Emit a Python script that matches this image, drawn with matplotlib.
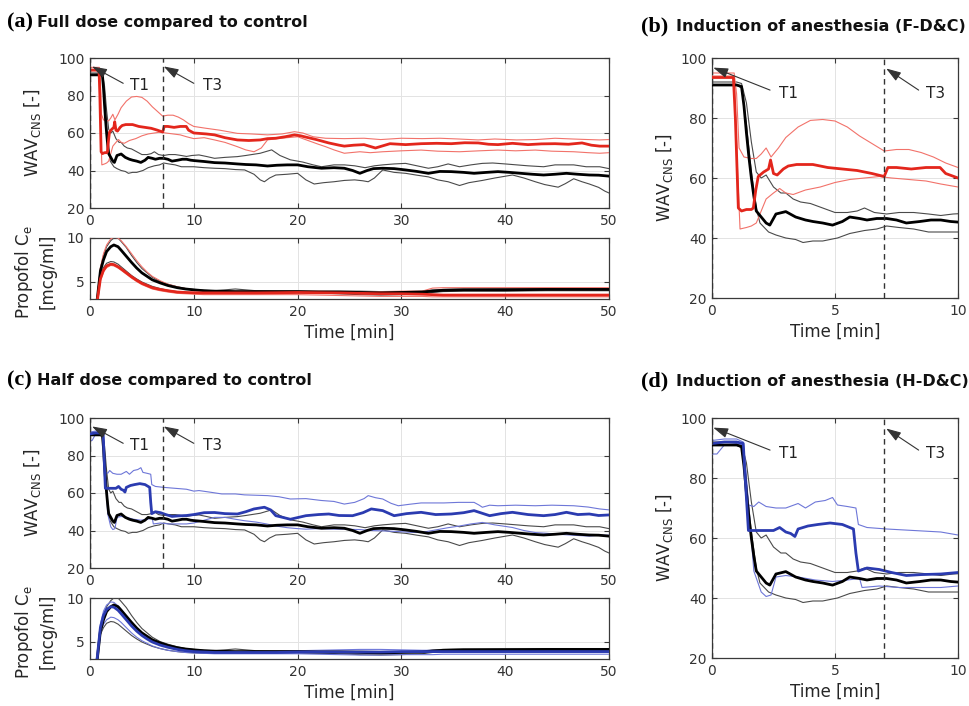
import matplotlib
matplotlib.use("Agg")
import matplotlib.pyplot as plt

# ---------------- data ----------------
# Control group WAV_CNS
ctrl_mean_t = [0, 0.5, 1.0, 1.2, 1.3, 1.4, 1.5, 1.6, 1.7, 1.8, 2.0, 2.2, 2.35, 2.6, 3.0, 3.4, 3.8, 4.1, 4.5, 4.9,
               5.3, 5.6, 6.0, 6.3, 6.7, 7.1, 7.5, 7.9, 8.45, 8.9, 9.3, 9.7, 10, 11, 12, 13, 14.2, 15, 16, 17.1,
               18, 19, 20, 21, 22.3, 23.5, 24.5, 25.3, 26, 26.7, 27.3, 28.2, 29.3, 30.4, 31.5, 32.6, 33.7, 34.8,
               36, 37, 38.2, 39.3, 40.4, 41.5, 42.6, 43.7, 44.8, 45.9, 47, 48.1, 49, 50]
ctrl_mean_v = [91, 91, 91, 90.5, 84, 75, 67, 60, 54, 49, 47, 45, 44.3, 48, 48.8, 47, 46, 45.5, 45, 44.3,
               45.5, 47, 46.5, 46, 46.5, 46.5, 46, 45, 45.5, 46, 46, 45.5, 45.3, 44.8, 44.2, 44, 43.5, 43.2, 43, 42.4,
               42.8, 43, 43, 42, 41.2, 41.5, 41.2, 40, 38.5, 40, 41, 41.2, 41, 40.3, 39.5, 38.5, 39.5, 39.4,
               39, 38.5, 39, 39.4, 39, 38.5, 38, 37.6, 38, 38.5, 38, 37.6, 37.5, 37]
ctrl_up_t = [0, 1.0, 1.2, 1.4, 1.6, 1.8, 2.0, 2.2, 2.5, 2.8, 3.0, 3.3, 3.6, 4.0, 4.5, 5.0, 5.5, 5.9, 6.2, 6.6,
             7.1, 7.6, 8.2, 8.8, 9.3, 9.8, 10.5, 11.2, 12, 13, 14.2, 15, 16.4, 17.5, 18.3, 19.3, 20.5, 21.5,
             22.3, 23.5, 24.5, 25.5, 26.5, 27.4, 28.2, 29.3, 30.4, 31.5, 32.6, 33.5, 34.5, 35.6, 36.7, 37.8,
             38.8, 40, 41.1, 42.2, 43.7, 44.8, 46.6, 47.8, 49.1, 50]
ctrl_up_v = [92, 92, 91.5, 85, 72, 62, 60, 61, 57, 55, 55, 53, 52, 51.5, 50, 48.5, 48.5, 49, 50, 48.5,
             48, 48.5, 48.5, 48, 47.5, 48, 48.3, 47.5, 46.5, 47, 47.4, 48, 49.2, 51, 48, 45.7, 44.5, 43,
             42, 43, 43, 42.5, 41.5, 42.5, 43, 43.5, 43.8, 42.5, 41.2, 42, 43.5, 42, 43, 43.8,
             44, 43.5, 43, 42.5, 42, 43, 43, 42, 42, 41]
ctrl_lo_t = [0, 1.0, 1.2, 1.4, 1.6, 1.8, 1.95, 2.3, 2.6, 3.0, 3.4, 3.7, 4.1, 4.5, 5.1, 5.6, 6.2, 6.7, 7.1, 7.6,
             8.2, 8.8, 9.5, 10, 11, 12, 13, 14, 14.9, 15.8, 16.4, 16.8, 17.3, 17.9, 19, 20, 20.8, 21.6, 22.5,
             23.5, 24.5, 25.5, 26.3, 26.8, 27.4, 28.2, 29.3, 30.4, 31.5, 32.6, 33.5, 34.5, 35.6, 36.5, 37.8,
             39, 40.7, 41.8, 42.9, 43.8, 45.1, 45.8, 46.6, 47.4, 48.1, 49, 49.6, 50]
ctrl_lo_v = [91, 91, 90, 78, 62, 50, 45, 42, 41, 40, 39.5, 38.5, 39, 39, 40, 41.5, 42.5, 43, 44, 43.5,
             43, 42, 42, 42, 41.5, 41.2, 41, 40.5, 40.3, 38, 35, 34, 36, 37.6, 38, 38.5, 35, 32.8, 33.5,
             34, 34.7, 35, 34.5, 34, 36, 40.3, 39, 38.5, 37.5, 36.6, 35, 34, 32, 33.5, 34.7,
             36, 37.6, 36, 34, 32.5, 31.1, 33, 35.6, 34, 32.8, 31, 29, 28]

# Full dose group WAV_CNS
full_mean_t = [0, 0.5, 0.87, 0.95, 1.07, 1.2, 1.4, 1.6, 1.68, 1.78, 1.88, 2.1, 2.3, 2.38, 2.5, 2.65, 2.9, 3.1,
               3.44, 4.1, 4.7, 5.3, 5.9, 6.5, 7.0, 7.15, 7.5, 8.1, 8.7, 9.27, 9.5, 10, 10.5, 11.2, 12, 13, 14.2,
               15.3, 16.4, 17.1, 17.9, 18.8, 19.7, 20.3, 20.8, 21.8, 23, 24, 24.5, 25.4, 26.4, 27.5, 28.9,
               30.4, 31.9, 33.4, 34.8, 36.1, 37.4, 38.4, 39.3, 40.7, 42.2, 43.5, 44.8, 46.1, 47.4, 48.3, 49.1, 50]
full_mean_v = [93.5, 93.5, 93.5, 80, 50, 49, 49.5, 49.5, 50, 56, 60.5, 62, 63, 66, 61.5, 61, 63, 64,
               64.5, 64.5, 63.5, 63, 62.5, 61.5, 60.5, 63.5, 63.5, 63, 63.5, 63.5, 61.5, 60, 59.8, 59.5, 59, 57.5, 56.3,
               56, 56.3, 57, 57.2, 58, 59, 58.5, 57.8, 56.5, 54.7, 53.5, 53, 53.5, 53.8, 52, 54.3,
               53.8, 54.3, 54.5, 54.3, 54.8, 54.7, 54, 53.8, 54.5, 53.8, 54.2, 54.3, 54, 54.7, 53.5, 53, 53]
full_up_t = [0, 0.9, 1.0, 1.1, 1.3, 1.6, 1.8, 2.0, 2.2, 2.4, 2.7, 3.0, 3.5, 4.0, 4.5, 5.0, 5.5, 6.0, 6.5, 7.0,
             7.5, 8.0, 8.5, 9.0, 9.5, 10, 11.2, 12.5, 14.2, 15.5, 17.1, 18.5, 19.7, 20.5, 21.5, 22.7, 24.5,
             26.4, 28, 30, 32, 33.7, 35.5, 37.4, 39, 41.1, 43, 44.8, 46.5, 48, 49.1, 50]
full_up_v = [95, 95, 88, 70, 67, 66.5, 66.5, 68, 70, 67, 70, 73.5, 77, 79.2, 79.5, 79, 77, 74, 71.5, 69,
             69.5, 69.5, 68.5, 67, 65, 63.5, 62.5, 61.5, 59.8, 59.5, 59, 59.5, 60.7, 60, 58, 57.2, 57,
             57.2, 56.5, 57.2, 57, 57.2, 56.8, 56.3, 56.8, 56.3, 56.5, 57.2, 56.8, 56.5, 56.3, 56.5]
full_lo_t = [0, 0.9, 1.05, 1.14, 1.4, 1.6, 1.8, 2.0, 2.2, 2.5, 2.75, 3.0, 3.3, 3.8, 4.4, 5.0, 5.6, 6.2, 6.8,
             7.3, 8.0, 8.7, 9.3, 10, 11, 12, 13, 14.2, 15, 15.8, 16.5, 17.1, 18, 19, 20, 21, 22, 22.7, 23.5,
             24.5, 26, 27, 28.2, 30, 31.9, 33.5, 35.6, 37.5, 39.3, 41, 42.9, 44.5, 46.6, 48, 49.1, 50]
full_lo_v = [94, 94, 60, 43, 43.5, 44, 45, 49, 53, 55, 56.5, 55, 54.5, 56, 57, 58.5, 59.5, 60, 60.5,
             60, 59.5, 59, 58, 57, 57.5, 56.3, 55, 52.7, 51, 50, 52, 56.3, 57, 57.5, 58, 56, 54, 52.7, 51,
             49.2, 50, 49.5, 50, 50.5, 50.9, 50.3, 50, 50.5, 50.9, 50.5, 50.9, 50.3, 50, 49.5, 49.2, 49.5]

# Half dose group WAV_CNS
half_mean_t = [0, 0.5, 1.0, 1.27, 1.35, 1.48, 1.8, 2.2, 2.5, 2.75, 3.0, 3.2, 3.37, 3.5, 3.9, 4.3, 4.8, 5.3,
               5.75, 5.85, 5.95, 6.3, 6.8, 7.3, 7.9, 8.5, 9.3, 10, 11, 12, 13, 14.2, 15, 15.8, 16.8, 17.4,
               17.9, 19.3, 20.8, 22, 23, 24, 25.3, 26.3, 27.1, 28.2, 29.3, 30.5, 31.9, 33.3, 34.8, 36, 37,
               38.5, 39.6, 40.7, 42.2, 43.7, 44.8, 45.9, 47, 48.1, 49, 50]
half_mean_v = [91.5, 92, 92, 91.5, 80, 62.5, 62.5, 62.5, 62.5, 63.5, 62, 61.5, 60.5, 63, 64, 64.5, 65, 64.5,
               63, 55, 49, 50, 49.5, 48.5, 47.5, 47.8, 48, 48.5, 49.5, 49.6, 49, 48.8, 50, 51.5, 52.4, 51,
               47.9, 46, 47.9, 48.5, 48.8, 48, 47.9, 49.5, 51.5, 50.6, 47.9, 49, 49.7, 48.5, 48.8, 49.5, 50.6,
               47.9, 49, 49.7, 48.5, 47.9, 48.5, 49.7, 48.5, 48.8, 48, 48.3]
half_up_t = [0, 0.5, 1.0, 1.27, 1.4, 1.48, 1.7, 1.9, 2.2, 2.6, 3.0, 3.5, 3.8, 4.2, 4.6, 4.9, 5.1, 5.5, 5.85,
             5.95, 6.3, 7.1, 8.2, 9.3, 10, 10.5, 11.5, 12.7, 14, 14.9, 16, 17.1, 18.2, 19.3, 20.8, 22.3, 23.5,
             24.5, 25.5, 26.4, 26.8, 27.5, 28.2, 29, 29.7, 30.8, 31.9, 33, 34.1, 35.5, 37, 37.5, 37.8, 38.5,
             39.3, 41, 42.9, 44.5, 46.6, 48, 49.1, 50]
half_up_v = [92.5, 93, 93, 92, 80, 71, 70.5, 72, 70.5, 70, 70, 71.5, 70, 72, 72.5, 73.5, 71, 70.5, 70,
             64.5, 63.5, 63, 62.5, 62, 61, 61.3, 60.5, 59.5, 59.5, 59, 58.8, 58.6, 58, 56.8, 57, 56, 55.5,
             54.1, 55, 57, 58.6, 57.5, 56.8, 54.5, 53.2, 54, 54.7, 54.7, 54.7, 55, 55, 53.5, 52.4, 53.5,
             53.2, 53.5, 53.2, 53.5, 53.2, 52.5, 51.5, 51]
half_lo_t = [0, 0.2, 0.5, 1.0, 1.27, 1.5, 1.7, 2.0, 2.2, 2.4, 2.6, 3.0, 3.5, 4.2, 4.9, 5.5, 6.0, 6.1, 6.8,
             7.6, 8.5, 9.3, 10, 11, 12, 13, 14, 14.9, 16, 17, 17.9, 19, 20, 20.8, 22, 23.5, 24.5, 26, 27,
             28.2, 29.5, 31, 31.9, 33, 34.5, 35.6, 36.7, 37.8, 39, 40.7, 41.8, 42.9, 44, 45.1, 46.5, 48.1,
             49, 50]
half_lo_v = [88, 88, 91, 91.5, 91, 70, 49, 42, 40.5, 41, 47, 47.5, 47, 46, 45.5, 46, 46.5, 43.5, 44,
             43.5, 43.5, 43.5, 44, 45.5, 47, 47, 46, 45.2, 44.5, 43.5, 42.4, 41.5, 41, 40.7, 41, 40.7, 40.7,
             40.5, 40, 39.8, 39.5, 39, 38.9, 40, 41.5, 42.4, 43.5, 44.3, 43, 41.6, 40, 38.9, 38.5, 38, 37.5,
             37, 37.5, 37.5]

# Propofol effect-site concentration Ce [mcg/ml]
ce_t = [0, 0.5, 0.7, 1.0, 1.3, 1.6, 2.0, 2.3, 2.7, 3.0, 3.5, 4.0, 4.5, 5.0, 5.5, 6.0, 6.75, 7.5, 8.4, 9.2,
        10, 11, 12, 14, 16, 18, 20, 22, 24, 26, 28, 30, 32, 33, 34, 36, 40, 44, 48, 50]
ce_ctrl_mean = [0, 1.5, 3, 6.2, 7.5, 8.45, 9.0, 9.2, 9.0, 8.6, 7.9, 7.2, 6.55, 6.0, 5.6, 5.2, 4.85, 4.55, 4.3, 4.15,
                4.05, 3.95, 3.9, 3.85, 3.85, 3.85, 3.85, 3.8, 3.8, 3.75, 3.7, 3.75, 3.8, 3.9, 4.0, 4.05, 4.05, 4.1, 4.1, 4.1]
ce_ctrl_up = [0, 1.6, 3.2, 6.5, 8.0, 9.0, 9.7, 10.0, 10.0, 9.6, 8.9, 8.0, 7.2, 6.5, 6.0, 5.5, 5.0, 4.7, 4.4, 4.2,
              4.1, 4.0, 3.95, 4.15, 3.95, 3.9, 3.9, 3.9, 3.9, 3.9, 3.85, 3.85, 3.9, 4.05, 4.1, 4.15, 4.2, 4.2, 4.2, 4.2]
ce_ctrl_lo = [0, 1.4, 3, 5.8, 6.6, 7.1, 7.3, 7.25, 7.0, 6.7, 6.2, 5.7, 5.3, 4.95, 4.7, 4.45, 4.2, 4.0, 3.85, 3.75,
              3.7, 3.65, 3.65, 3.65, 3.65, 3.65, 3.7, 3.7, 3.6, 3.5, 3.45, 3.5, 3.6, 3.75, 3.85, 3.9, 3.9, 3.95, 3.95, 3.95]
ce_full_mean = [0, 1.3, 2.8, 5.3, 6.3, 6.8, 7.0, 6.95, 6.7, 6.45, 6.0, 5.55, 5.15, 4.8, 4.55, 4.3, 4.1, 3.95, 3.8, 3.75,
                3.72, 3.7, 3.7, 3.7, 3.7, 3.72, 3.75, 3.72, 3.7, 3.65, 3.6, 3.6, 3.55, 3.5, 3.45, 3.45, 3.45, 3.45, 3.45, 3.45]
ce_full_up = [0, 1.6, 3.3, 6.6, 8.2, 9.2, 9.9, 10.1, 10.0, 9.7, 9.0, 8.2, 7.4, 6.7, 6.1, 5.6, 5.1, 4.7, 4.4, 4.2,
              4.05, 3.95, 3.9, 3.9, 3.9, 3.9, 3.9, 3.9, 3.85, 3.85, 3.85, 3.9, 3.9, 4.25, 4.3, 4.3, 4.3, 4.3, 4.3, 4.3]
ce_full_lo = [0, 1.2, 2.7, 5.1, 6.1, 6.6, 6.85, 6.8, 6.55, 6.3, 5.85, 5.4, 5.0, 4.65, 4.4, 4.15, 3.95, 3.8, 3.65, 3.6,
              3.55, 3.5, 3.5, 3.5, 3.5, 3.5, 3.5, 3.45, 3.4, 3.35, 3.3, 3.3, 3.3, 3.25, 3.25, 3.25, 3.25, 3.25, 3.25, 3.25]
ce_half_mean = [0, 1.6, 3.2, 6.6, 8.0, 8.7, 9.0, 8.95, 8.6, 8.2, 7.5, 6.8, 6.2, 5.7, 5.3, 4.95, 4.6, 4.35, 4.1, 3.95,
                3.85, 3.8, 3.75, 3.75, 3.75, 3.75, 3.8, 3.8, 3.8, 3.8, 3.8, 3.85, 3.85, 3.85, 3.85, 3.85, 3.85, 3.85, 3.85, 3.85]
ce_half_up = [0, 1.7, 3.4, 7.0, 8.5, 9.2, 9.55, 9.5, 9.1, 8.7, 7.9, 7.1, 6.5, 6.0, 5.5, 5.1, 4.7, 4.45, 4.2, 4.05,
              3.95, 3.9, 3.85, 3.85, 3.85, 3.9, 3.95, 4.0, 4.05, 4.1, 4.1, 4.05, 4.0, 4.0, 4.0, 4.0, 4.0, 4.0, 4.0, 4.0]
ce_half_lo = [0, 1.5, 3.0, 6.0, 7.0, 7.5, 7.8, 7.75, 7.5, 7.2, 6.6, 6.0, 5.5, 5.1, 4.8, 4.5, 4.2, 4.0, 3.85, 3.75,
              3.7, 3.65, 3.6, 3.6, 3.6, 3.6, 3.6, 3.55, 3.5, 3.45, 3.45, 3.5, 3.5, 3.5, 3.55, 3.55, 3.55, 3.55, 3.55, 3.55]

event_times = [0, 7]          # dashed markers (T1 at 0 min, T3 at 7 min)
wav_ticks = [20, 40, 60, 80, 100]
ce_ticks = [5, 10]
long_ticks = [0, 10, 20, 30, 40, 50]
short_ticks = [0, 5, 10]

# ---------------- style ----------------
C_CTRL, C_CTRL_B = "#000000", "#4a4a4a"
C_FULL, C_FULL_B = "#e3261c", "#f2726a"
C_HALF, C_HALF_B = "#2b3bb0", "#6e77d8"
LW_M, LW_B = 2.0, 0.8
SPINE = "#3a3a3a"
TICK_FS, LAB_FS = 10, 12

W, H = 969, 706
fig = plt.figure(figsize=(W / 100, H / 100), dpi=100)


def box(l, t, r, b):
    return [l / W, 1 - b / H, (r - l) / W, (b - t) / H]


def style(ax, xt, yt, xlim, ylim):
    ax.set_xlim(*xlim)
    ax.set_ylim(*ylim)
    ax.set_xticks(xt)
    ax.set_yticks(yt)
    ax.grid(True, color="#e3e3e3", lw=0.7)
    ax.set_axisbelow(True)
    for s in ax.spines.values():
        s.set_color(SPINE)
        s.set_linewidth(0.9)
    ax.tick_params(direction="in", length=3.5, width=0.8, color=SPINE, labelcolor="#333333",
                   labelsize=TICK_FS, top=True, right=True, pad=4)


def wav_lines(ax, grp):
    gt, gm, gu, gl, cm, cb = grp
    ax.plot(ctrl_up_t, ctrl_up_v, color=C_CTRL_B, lw=LW_B, zorder=3)
    ax.plot(ctrl_lo_t, ctrl_lo_v, color=C_CTRL_B, lw=LW_B, zorder=3)
    ax.plot(gu[0], gu[1], color=cb, lw=LW_B, zorder=3)
    ax.plot(gl[0], gl[1], color=cb, lw=LW_B, zorder=3)
    ax.plot(ctrl_mean_t, ctrl_mean_v, color=C_CTRL, lw=LW_M, zorder=4)
    ax.plot(gt, gm, color=cm, lw=LW_M, zorder=5)
    for et in event_times:
        ax.axvline(et, color="#333333", lw=1.0, ls=(0, (4, 3)), zorder=6)


def ce_lines(ax, cu, cl, cmn, cm, cb):
    ax.plot(ce_t, ce_ctrl_up, color=C_CTRL_B, lw=LW_B, zorder=3)
    ax.plot(ce_t, ce_ctrl_lo, color=C_CTRL_B, lw=LW_B, zorder=3)
    ax.plot(ce_t, cu, color=cb, lw=LW_B, zorder=3)
    ax.plot(ce_t, cl, color=cb, lw=LW_B, zorder=3)
    ax.plot(ce_t, ce_ctrl_mean, color=C_CTRL, lw=LW_M, zorder=4)
    ax.plot(ce_t, cmn, color=cm, lw=LW_M, zorder=5)


def arrows(ax, t1_tip, t1_tail, t1_txt, t3_tip, t3_tail, t3_txt):
    for tip, tail, txt, lab in [(t1_tip, t1_tail, t1_txt, "T1"), (t3_tip, t3_tail, t3_txt, "T3")]:
        ax.annotate("", xy=tip, xytext=tail,
                    arrowprops=dict(arrowstyle="-|>,head_length=0.9,head_width=0.3",
                                    color="#333333", lw=0.8, shrinkA=0, shrinkB=0), zorder=7)
        ax.text(txt[0], txt[1], lab, fontsize=11, color="#222222", ha="center", va="center", zorder=7)


def titles(xl, xt, ybase, letter, text):
    fig.text(xl / W, 1 - ybase / H, letter, fontsize=16, fontweight="bold",
             family="Liberation Serif", va="baseline", ha="left")
    fig.text(xt / W, 1 - ybase / H, text, fontsize=11.5, fontweight="bold",
             family="DejaVu Sans", va="baseline", ha="left", color="#111111")


wav_label = r"WAV$_{\mathrm{CNS}}$ [-]"
ce_label = "Propofol C$_\\mathrm{e}$\n[mcg/ml]"

full = (full_mean_t, full_mean_v, (full_up_t, full_up_v), (full_lo_t, full_lo_v), C_FULL, C_FULL_B)
half = (half_mean_t, half_mean_v, (half_up_t, half_up_v), (half_lo_t, half_lo_v), C_HALF, C_HALF_B)

for grp, off, ce_set, letter_l, text_l, letter_r, text_r, ybl, ybr in [
    (full, 0, (ce_full_up, ce_full_lo, ce_full_mean), "(a)", "Full dose compared to control",
     "(b)", "Induction of anesthesia (F-D&C)", 27, 31),
    (half, 360, (ce_half_up, ce_half_lo, ce_half_mean), "(c)", "Half dose compared to control",
     "(d)", "Induction of anesthesia (H-D&C)", 385, 386),
]:
    # long WAV panel
    ax1 = fig.add_axes(box(90, 58 + off, 609, 208 + off))
    wav_lines(ax1, grp)
    style(ax1, long_ticks, wav_ticks, (0, 50), (20, 100))
    ax1.set_ylabel(wav_label, fontsize=LAB_FS, color="#262626")
    ax1.yaxis.set_label_coords(-0.09, 0.5)
    arrows(ax1, (0.2, 95.5), (3.2, 86.5), (4.8, 85.6), (7.1, 95.5), (10.0, 86.5), (11.8, 85.6))
    # Ce panel
    ax2 = fig.add_axes(box(90, 238 + off, 609, 299 + off))
    ce_lines(ax2, ce_set[0], ce_set[1], ce_set[2], grp[4], grp[5])
    style(ax2, long_ticks, ce_ticks, (0, 50), (3, 10))
    ax2.set_ylabel(ce_label, fontsize=LAB_FS, color="#262626", linespacing=1.25)
    ax2.yaxis.set_label_coords(-0.065, 0.45)
    ax2.set_xlabel("Time [min]", fontsize=LAB_FS, color="#262626", labelpad=4)
    # induction zoom panel
    ax3 = fig.add_axes(box(712, 58 + off, 958, 298 + off))
    wav_lines(ax3, grp)
    style(ax3, short_ticks, wav_ticks, (0, 10), (20, 100))
    ax3.set_ylabel(wav_label, fontsize=LAB_FS, color="#262626")
    ax3.yaxis.set_label_coords(-0.15, 0.5)
    ax3.set_xlabel("Time [min]", fontsize=LAB_FS, color="#262626", labelpad=4)
    arrows(ax3, (0.05, 96.8), (2.36, 89.3), (3.1, 88.2), (7.08, 96.5), (8.4, 89.3), (9.1, 88.3))
    # titles
    titles(7, 37, ybl, letter_l, text_l)
    titles(641, 676, ybr, letter_r, text_r)

fig.savefig("out.png", dpi=100)
